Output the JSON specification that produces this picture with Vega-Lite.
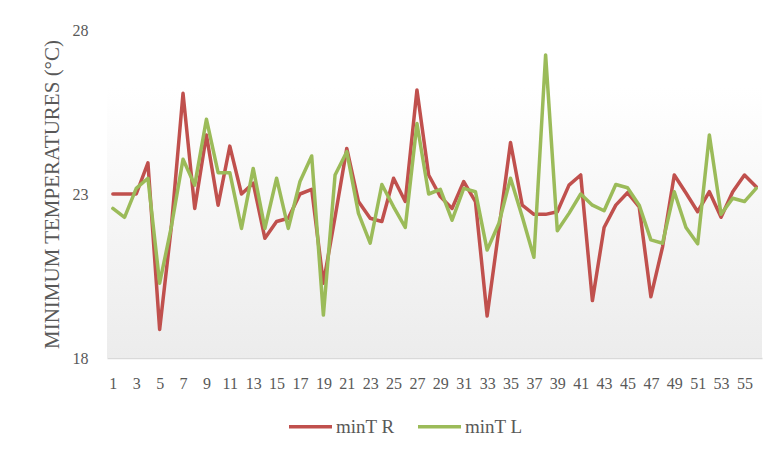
{
  "$schema": "https://vega.github.io/schema/vega-lite/v6.json",
  "width": 655,
  "height": 328,
  "autosize": {"type": "none"},
  "padding": {"left": 107, "top": 30, "right": 12, "bottom": 95},
  "background": "white",
  "config": {
    "view": {"stroke": null},
    "font": "Liberation Serif",
    "axis": {"labelFont": "Liberation Serif", "titleFont": "Liberation Serif", "labelColor": "#595959", "titleColor": "#595959", "titleFontWeight": "normal"},
    "legend": {"labelFont": "Liberation Serif"}
  },
  "datasets": {
    "temps": [
      {"day":1,"minT R":23.0,"minT L":22.56},{"day":2,"minT R":23.0,"minT L":22.29},{"day":3,"minT R":23.0,"minT L":23.17},{"day":4,"minT R":23.95,"minT L":23.48},
      {"day":5,"minT R":18.87,"minT L":20.28},{"day":6,"minT R":22.0,"minT L":22.0},{"day":7,"minT R":26.07,"minT L":24.06},{"day":8,"minT R":22.56,"minT L":23.27},
      {"day":9,"minT R":24.8,"minT L":25.28},{"day":10,"minT R":22.66,"minT L":23.65},{"day":11,"minT R":24.46,"minT L":23.65},{"day":12,"minT R":23.0,"minT L":21.95},
      {"day":13,"minT R":23.33,"minT L":23.78},{"day":14,"minT R":21.65,"minT L":21.95},{"day":15,"minT R":22.16,"minT L":23.48},{"day":16,"minT R":22.26,"minT L":21.95},
      {"day":17,"minT R":23.0,"minT L":23.38},{"day":18,"minT R":23.14,"minT L":24.16},{"day":19,"minT R":20.28,"minT L":19.31},{"day":20,"minT R":22.3,"minT L":23.58},
      {"day":21,"minT R":24.39,"minT L":24.29},{"day":22,"minT R":22.77,"minT L":22.41},{"day":23,"minT R":22.26,"minT L":21.5},{"day":24,"minT R":22.16,"minT L":23.29},
      {"day":25,"minT R":23.48,"minT L":22.61},{"day":26,"minT R":22.77,"minT L":21.98},{"day":27,"minT R":26.17,"minT L":25.15},{"day":28,"minT R":23.58,"minT L":23.0},
      {"day":29,"minT R":22.92,"minT L":23.14},{"day":30,"minT R":22.56,"minT L":22.2},{"day":31,"minT R":23.38,"minT L":23.17},{"day":32,"minT R":22.77,"minT L":23.07},
      {"day":33,"minT R":19.28,"minT L":21.29},{"day":34,"minT R":21.9,"minT L":22.1},{"day":35,"minT R":24.57,"minT L":23.48},{"day":36,"minT R":22.66,"minT L":22.31},
      {"day":37,"minT R":22.38,"minT L":21.07},{"day":38,"minT R":22.38,"minT L":27.24},{"day":39,"minT R":22.46,"minT L":21.88},{"day":40,"minT R":23.27,"minT L":22.41},
      {"day":41,"minT R":23.58,"minT L":23.0},{"day":42,"minT R":19.75,"minT L":22.66},{"day":43,"minT R":21.98,"minT L":22.49},{"day":44,"minT R":22.66,"minT L":23.29},
      {"day":45,"minT R":23.04,"minT L":23.19},{"day":46,"minT R":22.61,"minT L":22.66},{"day":47,"minT R":19.87,"minT L":21.6},{"day":48,"minT R":21.39,"minT L":21.5},
      {"day":49,"minT R":23.58,"minT L":23.07},{"day":50,"minT R":23.03,"minT L":21.98},{"day":51,"minT R":22.46,"minT L":21.48},{"day":52,"minT R":23.07,"minT L":24.8},
      {"day":53,"minT R":22.29,"minT L":22.38},{"day":54,"minT R":23.07,"minT L":22.87},{"day":55,"minT R":23.58,"minT L":22.77},{"day":56,"minT R":23.22,"minT L":23.17}
    ]
  },
  "layer": [
    {
      "data": {"values": [{}]},
      "mark": {"type": "rect", "fill": {"gradient": "linear", "x1": 0, "y1": 0, "x2": 0, "y2": 1, "stops": [{"offset": 0, "color": "#ffffff"}, {"offset": 1, "color": "#ececec"}]}},
      "encoding": {
        "x": {
          "datum": 0.5, "type": "quantitative",
          "scale": {"domain": [0.5, 56.5], "nice": false, "zero": false},
          "axis": {
            "title": null,
            "values": [1,3,5,7,9,11,13,15,17,19,21,23,25,27,29,31,33,35,37,39,41,43,45,47,49,51,53,55],
            "labelFontSize": 16, "labelPadding": 17, "ticks": false, "grid": false,
            "domainColor": "#d9d9d9", "domainWidth": 1.5, "labelFlush": false, "labelOverlap": false
          }
        },
        "x2": {"datum": 56.5},
        "y": {
          "datum": 26.26, "type": "quantitative",
          "scale": {"domain": [18, 28], "nice": false, "zero": false},
          "axis": {
            "title": "MINIMUM TEMPERATURES (°C)",
            "values": [18, 23, 28], "labelFontSize": 16, "labelPadding": 19,
            "titleFontSize": 21, "titlePadding": 10,
            "ticks": false, "grid": false, "domain": false
          }
        },
        "y2": {"datum": 18}
      }
    },
    {
      "data": {"name": "temps"},
      "transform": [{"fold": ["minT R", "minT L"], "as": ["series", "temp"]}],
      "mark": {"type": "line", "strokeWidth": 3.5, "strokeJoin": "round", "strokeCap": "round"},
      "encoding": {
        "x": {
          "field": "day", "type": "quantitative",
          "scale": {"domain": [0.5, 56.5], "nice": false, "zero": false},
          "axis": {
            "title": null,
            "values": [1,3,5,7,9,11,13,15,17,19,21,23,25,27,29,31,33,35,37,39,41,43,45,47,49,51,53,55],
            "labelFontSize": 16, "labelPadding": 17, "ticks": false, "grid": false,
            "domainColor": "#d9d9d9", "domainWidth": 1.5, "labelFlush": false, "labelOverlap": false
          }
        },
        "y": {
          "field": "temp", "type": "quantitative",
          "scale": {"domain": [18, 28], "nice": false, "zero": false},
          "axis": {
            "title": "MINIMUM TEMPERATURES (°C)",
            "values": [18, 23, 28], "labelFontSize": 16, "labelPadding": 19,
            "titleFontSize": 21, "titlePadding": 10,
            "ticks": false, "grid": false, "domain": false
          }
        },
        "color": {
          "field": "series", "type": "nominal",
          "scale": {"domain": ["minT R", "minT L"], "range": ["#c0504d", "#9bbb59"]},
          "legend": {
            "title": null, "orient": "none", "direction": "horizontal",
            "legendX": 180, "legendY": 373,
            "symbolType": "stroke", "symbolSize": 1849, "symbolStrokeWidth": 3.5,
            "labelFontSize": 19, "labelColor": "#595959", "columnPadding": 16, "labelOffset": 2, "padding": 0
          }
        }
      }
    }
  ]
}
